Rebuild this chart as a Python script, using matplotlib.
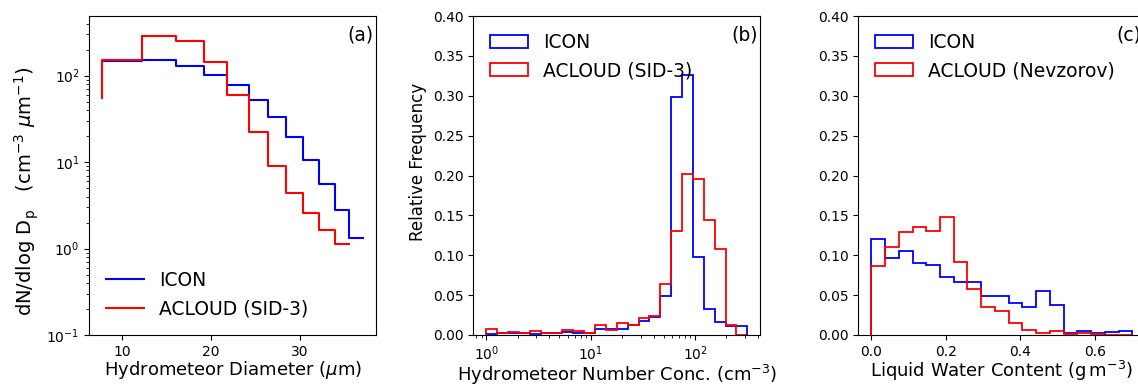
import numpy as np
import matplotlib
matplotlib.use('Agg')
import matplotlib.pyplot as plt

# --- panel (a): size distribution, step lines ---
diam_edges = [7.75, 12.25, 16.07, 19.17, 21.8, 24.2, 26.4, 28.4, 30.3, 32.1, 33.9, 35.45, 37.1]
icon_dn = [77, 149, 153, 130, 103, 77, 52.5, 32.9, 19.5, 10.6, 5.55, 2.76, 1.31]
acloud_edges = diam_edges[:-1]
acloud_dn = [55.5, 150, 288, 255, 144, 59, 22.5, 9.1, 4.4, 2.55, 1.64, 1.14]

# --- panel (b): number concentration histograms (log bins) ---
nc_edges = np.logspace(0, 2.5, 25)
icon_nc = [0.001, 0.002, 0.002, 0.002, 0.001, 0.002, 0.003, 0.004, 0.002, 0.003,
           0.007, 0.0075, 0.0075, 0.013, 0.0175, 0.022, 0.049, 0.299, 0.326, 0.098,
           0.0325, 0.016, 0.011, 0.011]
acloud_nc = [0.0075, 0.002, 0.004, 0.003, 0.005, 0.0025, 0.003, 0.006, 0.0055, 0.0025,
             0.012, 0.006, 0.015, 0.0125, 0.021, 0.024, 0.064, 0.131, 0.202, 0.196,
             0.144, 0.108, 0.013, 0.0]

# --- panel (c): liquid water content histograms ---
lwc_edges = np.linspace(0, 0.7, 20)
icon_lwc = [0.121, 0.096, 0.105, 0.090, 0.088, 0.073, 0.066, 0.066, 0.049, 0.049,
            0.040, 0.035, 0.055, 0.038, 0.003, 0.0055, 0.002, 0.004, 0.0045]
acloud_lwc = [0.087, 0.110, 0.129, 0.135, 0.131, 0.148, 0.092, 0.058, 0.035, 0.030,
              0.015, 0.006, 0.002, 0.0045, 0.001, 0.002, 0.001, 0.0, 0.0]

W, H = 1138, 385
fig = plt.figure(figsize=(W / 100, H / 100), dpi=100)

def rect(left_px):
    # third panel runs past the right edge, as in the cropped original
    return [left_px / W, 50 / H, 287 / W, 319 / H]

ax1 = fig.add_axes(rect(89.3))
ax2 = fig.add_axes(rect(473.3))
ax3 = fig.add_axes(rect(858.3))

TICK = 10
XLAB = 13
YLAB = 12
LEG = 13.5
XPAD = 0

# (a)
ax1.step(diam_edges, icon_dn, where='pre', color='b', lw=1.5, label='ICON')
ax1.step(acloud_edges, acloud_dn, where='pre', color='r', lw=1.5, label='ACLOUD (SID-3)')
ax1.set_yscale('log')
ax1.set_ylim(0.1, 490)
ax1.set_xlabel(r'Hydrometeor Diameter ($\mu$m)', fontsize=XLAB, labelpad=XPAD)
ax1.set_ylabel(r'dN/dlog D$_\mathrm{p}$   (cm$^{-3}$ $\mu$m$^{-1}$)', fontsize=14, y=0.45)
ax1.legend(loc='lower left', frameon=False, fontsize=LEG)
ax1.text(0.9, 0.97, '(a)', transform=ax1.transAxes, va='top', fontsize=LEG)

# (b)
ax2.hist(nc_edges[:-1], bins=nc_edges, weights=icon_nc, histtype='step', color='b', lw=1.3, label='ICON')
ax2.hist(nc_edges[:-1], bins=nc_edges, weights=acloud_nc, histtype='step', color='r', lw=1.3, label='ACLOUD (SID-3)')
ax2.set_xscale('log')
ax2.set_ylim(0, 0.4)
ax2.set_xlabel(r'Hydrometeor Number Conc. (cm$^{-3}$)', fontsize=XLAB, labelpad=XPAD)
ax2.set_ylabel('Relative Frequency', fontsize=YLAB, y=0.542)
ax2.legend(loc='upper left', frameon=False, fontsize=LEG)
ax2.text(0.9, 0.97, '(b)', transform=ax2.transAxes, va='top', fontsize=LEG)

# (c)
ax3.hist(lwc_edges[:-1], bins=lwc_edges, weights=icon_lwc, histtype='step', color='b', lw=1.3, label='ICON')
ax3.hist(lwc_edges[:-1], bins=lwc_edges, weights=acloud_lwc, histtype='step', color='r', lw=1.3, label='ACLOUD (Nevzorov)')
ax3.set_ylim(0, 0.4)
ax3.set_xlabel(r'Liquid Water Content (g$\,$m$^{-3}$)', fontsize=XLAB, labelpad=XPAD)
ax3.legend(loc='upper left', frameon=False, fontsize=LEG)
ax3.text(0.9, 0.97, '(c)', transform=ax3.transAxes, va='top', fontsize=LEG)

for ax in (ax1, ax2, ax3):
    ax.tick_params(labelsize=TICK)

fig.savefig('out.png', dpi=100)
